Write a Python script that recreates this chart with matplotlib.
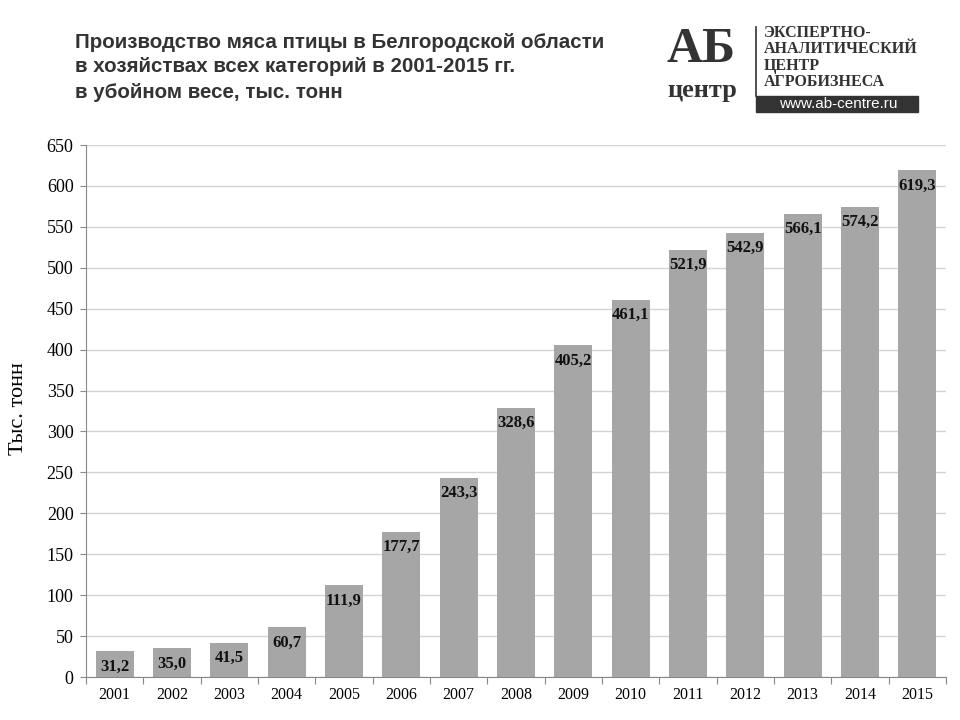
import numpy as np
import matplotlib
matplotlib.use('Agg')
import matplotlib.pyplot as plt
from matplotlib.patches import Rectangle

## -- Data
years = ["2001", "2002", "2003", "2004", "2005", "2006", "2007", "2008",
         "2009", "2010", "2011", "2012", "2013", "2014", "2015"]
values = [31.2, 35.0, 41.5, 60.7, 111.9, 177.7, 243.3, 328.6,
          405.2, 461.1, 521.9, 542.9, 566.1, 574.2, 619.3]
yticks = list(range(0, 651, 50))

title_lines = ["Производство мяса птицы в Белгородской области",
               "в хозяйствах всех категорий в 2001-2015 гг.",
               "в убойном весе, тыс. тонн"]
logo_lines = ["ЭКСПЕРТНО-", "АНАЛИТИЧЕСКИЙ", "ЦЕНТР", "АГРОБИЗНЕСА"]

serif = ['Liberation Serif', 'DejaVu Serif']
sans = ['Liberation Sans', 'DejaVu Sans']

fig = plt.figure(figsize=(9.6, 7.2), dpi=100)
ax = fig.add_axes([86/960, 43/720, 860/960, 532/720])

x = np.arange(len(years))
bar_color = '#a6a6a6'
ax.bar(x, values, width=0.66, color=bar_color, zorder=2)

# value labels inside the top of each bar
for xi, v in zip(x, values):
    ax.annotate(("%.1f" % v).replace('.', ','), (xi, v), xytext=(0, -11),
                textcoords='offset points', ha='center', va='center',
                fontsize=12, fontweight='bold', family=serif, color='#111111', zorder=3)

ax.set_xlim(-0.5, len(years) - 0.5)
ax.set_ylim(0, 650)
ax.set_yticks(yticks)
ax.set_yticklabels([str(t) for t in yticks], family=serif, fontsize=13)
ax.yaxis.grid(True, color='#d4d4d4', linewidth=1, zorder=0)
ax.set_axisbelow(True)

# category labels centered, tick marks on category boundaries
ax.set_xticks(np.arange(len(years) + 1) - 0.5)
ax.set_xticklabels([])
ax.set_xticks(x, minor=True)
ax.set_xticklabels(years, minor=True, family=serif, fontsize=11.5)
ax.tick_params(axis='x', which='major', length=5, color='#888888', direction='out')
ax.tick_params(axis='x', which='minor', length=0, pad=7)
ax.tick_params(axis='y', length=4, color='#888888', pad=5)

for s in ['top', 'right']:
    ax.spines[s].set_visible(False)
for s in ['left', 'bottom']:
    ax.spines[s].set_color('#888888')

ax.set_ylabel("Тыс. тонн", family=serif, fontsize=16)
ax.yaxis.set_label_coords(-0.068, 0.505)

# title
for i, line in enumerate(title_lines):
    fig.text(75/960, 1 - (42 + 25*i)/720, line, family=sans, fontsize=14.8,
             fontweight='bold', color='#333333', va='center', ha='left')

# logo
fig.text(701/960, 1 - 62/720, "АБ", family=serif, fontsize=36, fontweight='bold',
         color='#333333', ha='center', va='baseline')
fig.text(702/960, 1 - 97/720, "центр", family=serif, fontsize=19, fontweight='bold',
         color='#333333', ha='center', va='baseline')
fig.add_artist(plt.Line2D([756/960, 756/960], [1 - 27/720, 1 - 96/720],
                          color='#333333', linewidth=1.2))
for i, line in enumerate(logo_lines):
    fig.text(764/960, 1 - (33 + 16.3*i)/720, line, family=serif, fontsize=11.5,
             fontweight='bold', color='#333333', ha='left', va='center')
fig.add_artist(Rectangle((756/960, 1 - 112/720), 162/960, 16/720,
                         transform=fig.transFigure, color='#333333'))
fig.text(838/960, 1 - 103.5/720, "www.ab-centre.ru", family=sans, fontsize=11,
         color='white', ha='center', va='center')

plt.savefig("out.png", dpi=100)
